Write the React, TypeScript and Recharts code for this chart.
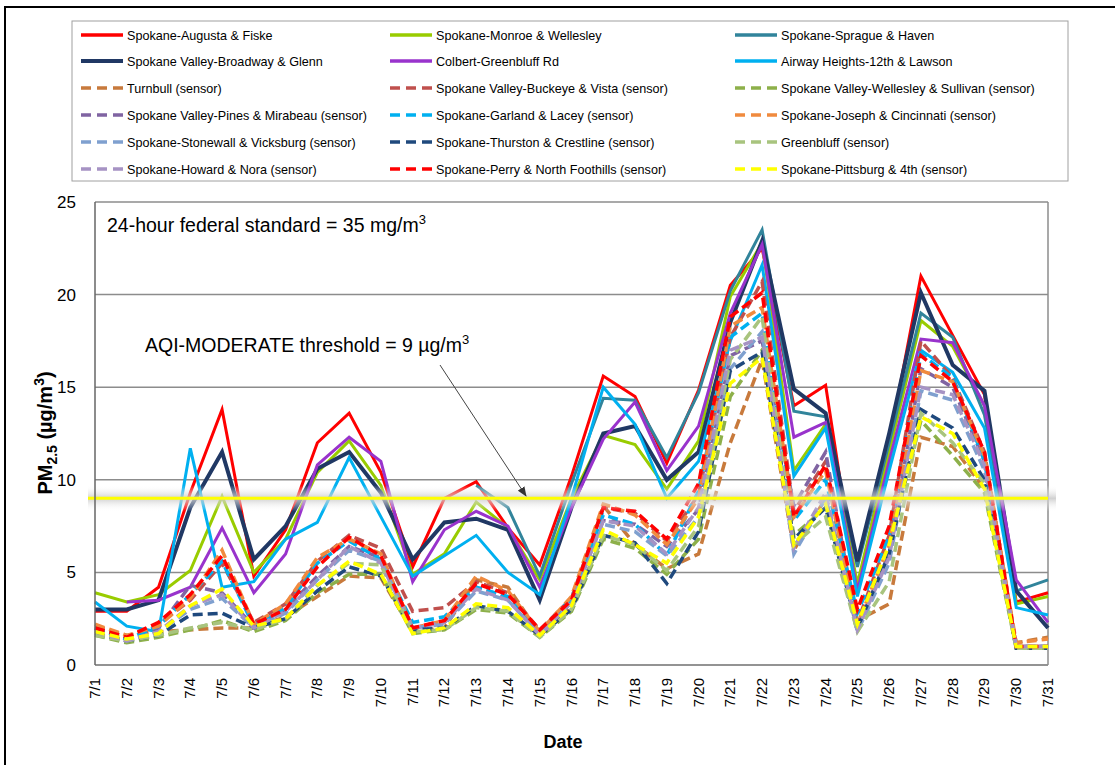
import { LineChart, Line, XAxis, YAxis, CartesianGrid, ReferenceLine } from 'recharts';

const days = [
  '7/1', '7/2', '7/3', '7/4', '7/5', '7/6', '7/7', '7/8', '7/9', '7/10',
  '7/11', '7/12', '7/13', '7/14', '7/15', '7/16', '7/17', '7/18', '7/19', '7/20',
  '7/21', '7/22', '7/23', '7/24', '7/25', '7/26', '7/27', '7/28', '7/29', '7/30', '7/31',
];

const yTicks = [0, 5, 10, 15, 20, 25];
const moderateThreshold = 9;

// solid lines = regulatory monitors
const augustaFiske = [2.9, 2.9, 4.2, 9.3, 13.8, 4.8, 7.3, 12.0, 13.6, 10.4, 5.3, 9.0, 9.9, 7.4, 5.4, 10.2, 15.6, 14.5, 10.9, 14.85, 20.5, 22.5, 14.0, 15.1, 3.9, 12.0, 21.0, 17.8, 14.6, 3.4, 3.9];
const monroeWellesley = [3.9, 3.4, 3.8, 5.1, 9.1, 5.0, 6.8, 10.4, 12.1, 9.7, 4.9, 6.0, 8.8, 7.4, 4.6, 9.0, 12.4, 11.9, 9.5, 12.1, 19.9, 22.8, 10.5, 13.0, 4.4, 11.5, 18.6, 17.2, 14.0, 3.3, 3.7];
const spragueHaven = [null, null, null, null, null, null, null, null, null, null, null, null, 9.7, 8.5, 4.8, 9.8, 14.4, 14.3, 11.2, 14.7, 20.2, 23.5, 13.7, 13.4, 5.3, 12.0, 19.0, 17.7, 13.5, 4.0, 4.6];
const broadwayGlenn = [3.0, 3.0, 3.5, 8.5, 11.5, 5.7, 7.5, 10.6, 11.5, 9.3, 5.7, 7.7, 7.9, 7.3, 3.5, 8.5, 12.5, 12.9, 10.0, 11.5, 18.5, 22.9, 14.9, 13.6, 5.6, 12.5, 20.1, 16.2, 14.8, 4.0, 2.0];
const colbertGreenbluff = [null, 3.4, 3.5, 4.2, 7.4, 3.9, 6.0, 10.8, 12.3, 11.0, 4.5, 7.3, 8.3, 7.5, 4.2, 8.5, 12.2, 14.2, 10.5, 12.9, 19.0, 22.7, 12.3, 13.1, 4.0, 11.0, 17.6, 17.4, 14.0, 4.6, 2.3];
const airwayHeights = [3.4, 2.1, 1.8, 11.7, 4.2, 4.5, 6.8, 7.7, 11.2, 8.0, 4.8, 5.9, 7.0, 5.0, 3.8, 9.0, 15.0, 13.0, 9.0, 11.0, 17.5, 21.6, 10.2, 12.8, 3.7, 10.5, 17.0, 15.8, 12.8, 3.1, 2.7];

// dashed lines = sensors
const turnbull = [2.1, 1.6, 1.8, 1.9, 2.0, 2.0, 2.6, 3.7, 4.8, 4.7, 1.8, 2.0, 4.6, 4.2, 1.7, 3.2, 8.6, 6.5, 5.2, 6.0, 12.0, 16.5, 6.2, 9.0, 2.4, 3.3, 12.3, 11.8, 9.5, 1.2, 1.5];
const buckeyeVista = [2.0, 1.5, 2.2, 3.5, 5.5, 2.3, 3.3, 5.6, 7.0, 6.3, 2.9, 3.1, 4.5, 3.9, 1.9, 3.6, 8.5, 8.2, 6.7, 9.2, 17.7, 20.7, 8.3, 11.0, 2.3, 7.0, 17.5, 15.5, 11.5, 1.0, 1.0];
const wellesleySullivan = [1.6, 1.2, 1.5, 1.9, 2.4, 1.8, 2.4, 3.9, 4.9, 4.9, 1.7, 1.9, 3.0, 2.8, 1.5, 2.9, 6.8, 6.3, 4.9, 6.8, 14.5, 17.0, 7.0, 8.5, 1.8, 6.5, 13.2, 11.3, 9.3, 0.9, 0.9];
const pinesMirabeau = [1.9, 1.4, 2.0, 4.3, 3.9, 2.1, 3.0, 4.8, 6.4, 5.8, 2.0, 2.3, 4.2, 3.6, 1.7, 3.4, 7.8, 7.6, 6.4, 8.4, 16.7, 17.5, 8.6, 11.5, 2.0, 6.0, 16.0, 15.0, 11.0, 1.0, 1.0];
const garlandLacey = [2.0, 1.4, 2.1, 3.8, 5.6, 2.1, 3.1, 5.5, 6.7, 5.7, 2.3, 2.6, 4.2, 3.7, 1.8, 3.6, 8.1, 7.6, 5.9, 9.4, 17.7, 19.0, 7.8, 10.0, 2.8, 7.0, 16.8, 15.5, 11.0, 1.0, 1.0];
const josephCincinnati = [2.2, 1.6, 2.1, 3.6, 6.2, 2.2, 3.3, 5.8, 6.8, 6.0, 2.0, 2.4, 4.8, 4.0, 1.8, 3.7, 8.7, 8.1, 6.5, 9.0, 18.3, 19.3, 8.0, 10.5, 2.2, 6.5, 15.9, 15.3, 11.3, 1.2, 1.4];
const stonewallVicksburg = [1.8, 1.3, 1.8, 3.0, 3.6, 2.0, 2.8, 4.6, 6.2, 5.6, 2.0, 2.2, 4.0, 3.5, 1.6, 3.3, 7.6, 7.2, 5.9, 8.0, 16.0, 18.0, 6.0, 9.0, 1.8, 5.5, 14.8, 14.3, 10.5, 0.9, 1.0];
const thurstonCrestline = [1.7, 1.3, 1.6, 2.7, 2.8, 2.0, 2.5, 4.0, 5.3, 4.8, 1.9, 2.0, 3.2, 2.9, 1.6, 3.0, 7.0, 6.6, 4.4, 7.2, 15.9, 16.9, 6.8, 8.5, 2.0, 6.0, 13.8, 12.8, 10.0, 0.9, 0.9];
const greenbluffSensor = [1.6, 1.3, 1.6, 2.0, 2.3, 1.9, 2.5, 4.3, 5.5, 5.4, 1.8, 1.9, 3.1, 2.9, 1.5, 3.0, 7.0, 6.5, 5.1, 7.5, 16.5, 18.8, 6.5, 8.0, 1.8, 4.5, 13.6, 12.0, 9.8, 0.9, 0.9];
const howardNora = [1.8, 1.3, 1.8, 3.2, 3.8, 2.0, 2.9, 4.6, 6.4, 5.5, 2.0, 2.3, 4.1, 3.5, 1.6, 3.4, 7.8, 7.5, 6.0, 8.5, 17.0, 17.7, 6.3, 9.3, 1.9, 5.8, 15.0, 14.6, 10.8, 1.0, 1.0];
const perryNorthFoothills = [2.0, 1.5, 2.3, 3.8, 5.9, 2.2, 3.0, 5.3, 6.9, 5.9, 2.0, 2.4, 4.4, 3.8, 1.9, 3.5, 8.5, 8.3, 6.8, 9.8, 18.8, 20.1, 8.0, 10.8, 3.0, 7.5, 16.7, 15.3, 11.5, 1.0, 1.0];
const pittsburg4th = [1.8, 1.4, 1.7, 3.2, 4.1, 2.1, 2.5, 4.3, 5.6, 4.9, 1.7, 2.0, 3.3, 3.1, 1.6, 3.2, 7.3, 6.5, 5.5, 8.0, 15.2, 16.6, 6.5, 8.7, 2.2, 6.5, 13.4, 12.5, 9.5, 1.0, 1.0];

// legend order, row by row (3 columns)
const series = [
  { key: 'augusta', name: 'Spokane-Augusta & Fiske', color: '#FF0000', dashed: false, values: augustaFiske },
  { key: 'monroe', name: 'Spokane-Monroe & Wellesley', color: '#99CC00', dashed: false, values: monroeWellesley },
  { key: 'sprague', name: 'Spokane-Sprague & Haven', color: '#31849B', dashed: false, values: spragueHaven },
  { key: 'broadway', name: 'Spokane Valley-Broadway & Glenn', color: '#203864', dashed: false, values: broadwayGlenn, width: 4 },
  { key: 'colbert', name: 'Colbert-Greenbluff Rd', color: '#9933CC', dashed: false, values: colbertGreenbluff },
  { key: 'airway', name: 'Airway Heights-12th & Lawson', color: '#00B0F0', dashed: false, values: airwayHeights },
  { key: 'turnbull', name: 'Turnbull (sensor)', color: '#C87A3C', dashed: true, values: turnbull },
  { key: 'buckeye', name: 'Spokane Valley-Buckeye & Vista (sensor)', color: '#C0504D', dashed: true, values: buckeyeVista },
  { key: 'wsullivan', name: 'Spokane Valley-Wellesley & Sullivan (sensor)', color: '#8DB04A', dashed: true, values: wellesleySullivan },
  { key: 'pines', name: 'Spokane Valley-Pines & Mirabeau (sensor)', color: '#8064A2', dashed: true, values: pinesMirabeau },
  { key: 'garland', name: 'Spokane-Garland & Lacey (sensor)', color: '#00B0F0', dashed: true, values: garlandLacey },
  { key: 'joseph', name: 'Spokane-Joseph & Cincinnati (sensor)', color: '#F08A3E', dashed: true, values: josephCincinnati },
  { key: 'stonewall', name: 'Spokane-Stonewall & Vicksburg (sensor)', color: '#7FA0CF', dashed: true, values: stonewallVicksburg },
  { key: 'thurston', name: 'Spokane-Thurston & Crestline (sensor)', color: '#1F497D', dashed: true, values: thurstonCrestline },
  { key: 'greenbluff', name: 'Greenbluff (sensor)', color: '#A8C47E', dashed: true, values: greenbluffSensor },
  { key: 'howard', name: 'Spokane-Howard & Nora (sensor)', color: '#A693C4', dashed: true, values: howardNora },
  { key: 'perry', name: 'Spokane-Perry & North Foothills (sensor)', color: '#FF0000', dashed: true, values: perryNorthFoothills },
  { key: 'pittsburg', name: 'Spokane-Pittsburg & 4th (sensor)', color: '#FFFF00', dashed: true, values: pittsburg4th },
];

const data = days.map((day, i) => {
  const row: Record<string, string | number | null> = { day };
  series.forEach((s) => {
    row[s.key] = s.values[i];
  });
  return row;
});

const FONT = 'Arial, "Liberation Sans", sans-serif';

const DayTick = (props: any) => {
  const { x, y, payload } = props;
  return (
    <text
      x={x}
      y={y}
      dy={5}
      transform={`rotate(-90, ${x}, ${y})`}
      textAnchor='end'
      fontSize={15}
      fontFamily={FONT}
      fill='#000'
    >
      {payload.value}
    </text>
  );
};

// yellow threshold line with its soft grey shadow
const GlowLine = (props: any) => {
  const { x1, x2, y1 } = props;
  const left = x1 - 7;
  return (
    <g>
      <defs>
        <linearGradient id='glow' x1='0' y1='0' x2='0' y2='1'>
          <stop offset='0%' stopColor='#ffffff' stopOpacity={0} />
          <stop offset='50%' stopColor='#c8c8c8' stopOpacity={0.85} />
          <stop offset='100%' stopColor='#ffffff' stopOpacity={0} />
        </linearGradient>
      </defs>
      <rect x={left} y={y1 - 13} width={x2 - left + 8} height={26} fill='url(#glow)' />
      <line x1={left} x2={x2} y1={y1} y2={y1} stroke='#FFFF00' strokeWidth={3} />
    </g>
  );
};

const legendCols = [81, 390, 735];
const legendRows = [35, 61, 88, 115, 142, 169];

export default function App() {
  return (
    <div style={{ position: 'absolute', left: 0, top: 0, width: 1115, height: 765, background: '#fff', overflow: 'hidden', fontFamily: FONT }}>
      <div style={{ position: 'absolute', left: 4, top: 6, width: 1130, height: 780, border: '2px solid #000', boxSizing: 'border-box' }} />
      <div style={{ position: 'absolute', left: 0, top: 0 }}>
        <LineChart width={1115} height={765} data={data} margin={{ top: 202, right: 67, bottom: 60, left: 55 }}>
          <CartesianGrid
            stroke='#8c8c8c'
            strokeWidth={1.5}
            verticalCoordinatesGenerator={({ offset }: any) => [offset.left + offset.width]}
          />
          <XAxis
            dataKey='day'
            height={40}
            interval={0}
            tickLine={false}
            tickMargin={7}
            axisLine={{ stroke: '#8c8c8c', strokeWidth: 1.5 }}
            tick={<DayTick />}
          />
          <YAxis
            width={40}
            domain={[0, 25]}
            ticks={yTicks}
            tickLine={false}
            tickMargin={13}
            axisLine={{ stroke: '#666', strokeWidth: 1.5 }}
            tick={{ fontSize: 17, fill: '#000', fontFamily: FONT }}
          />
          {series.map((s) => (
            <Line
              key={s.key}
              dataKey={s.key}
              name={s.name}
              type='linear'
              stroke={s.color}
              strokeWidth={s.width ?? (s.dashed ? 3.5 : 3)}
              strokeDasharray={s.dashed ? '10 5' : undefined}
              dot={false}
              activeDot={false}
              isAnimationActive={false}
            />
          ))}
          <ReferenceLine y={moderateThreshold} shape={<GlowLine />} />
        </LineChart>
      </div>
      <svg width={1115} height={765} style={{ position: 'absolute', left: 0, top: 0, pointerEvents: 'none' }} fontFamily={FONT}>
        <rect x={72} y={21} width={996} height={160} fill='none' stroke='#a0a0a0' strokeWidth={1} />
        {series.map((s, i) => {
          const x = legendCols[i % 3];
          const y = legendRows[Math.floor(i / 3)];
          return (
            <g key={s.key}>
              <line
                x1={x}
                x2={x + 42}
                y1={y}
                y2={y}
                stroke={s.color}
                strokeWidth={s.dashed ? 3.5 : s.width ?? 3.5}
                strokeDasharray={s.dashed ? '10 6' : undefined}
              />
              <text x={x + 46} y={y + 4.5} fontSize={12.6} fill='#000'>
                {s.name}
              </text>
            </g>
          );
        })}
        <text x={107} y={232} fontSize={19.5} fill='#000'>
          24-hour federal standard = 35 mg/m<tspan dy={-8} fontSize={13}>3</tspan>
        </text>
        <text x={145} y={352} fontSize={19.5} fill='#000'>
          AQI-MODERATE threshold = 9 µg/m<tspan dy={-8} fontSize={13}>3</tspan>
        </text>
        <defs>
          <marker id='arrowHead' markerWidth={10} markerHeight={8} refX={9} refY={4} orient='auto' markerUnits='userSpaceOnUse'>
            <path d='M0,0 L10,4 L0,8 Z' fill='#333' />
          </marker>
        </defs>
        <line x1={440} y1={365} x2={526} y2={496} stroke='#444' strokeWidth={1} markerEnd='url(#arrowHead)' />
        <text transform='translate(52,433) rotate(-90)' textAnchor='middle' fontSize={20} fontWeight='bold' fill='#000'>
          PM<tspan dy={5} fontSize={14}>2.5</tspan>
          <tspan dy={-5}> (µg/m</tspan>
          <tspan dy={-8} fontSize={14}>3</tspan>
          <tspan dy={8}>)</tspan>
        </text>
        <text x={563} y={748} textAnchor='middle' fontSize={18} fontWeight='bold' fill='#000'>
          Date
        </text>
      </svg>
    </div>
  );
}
